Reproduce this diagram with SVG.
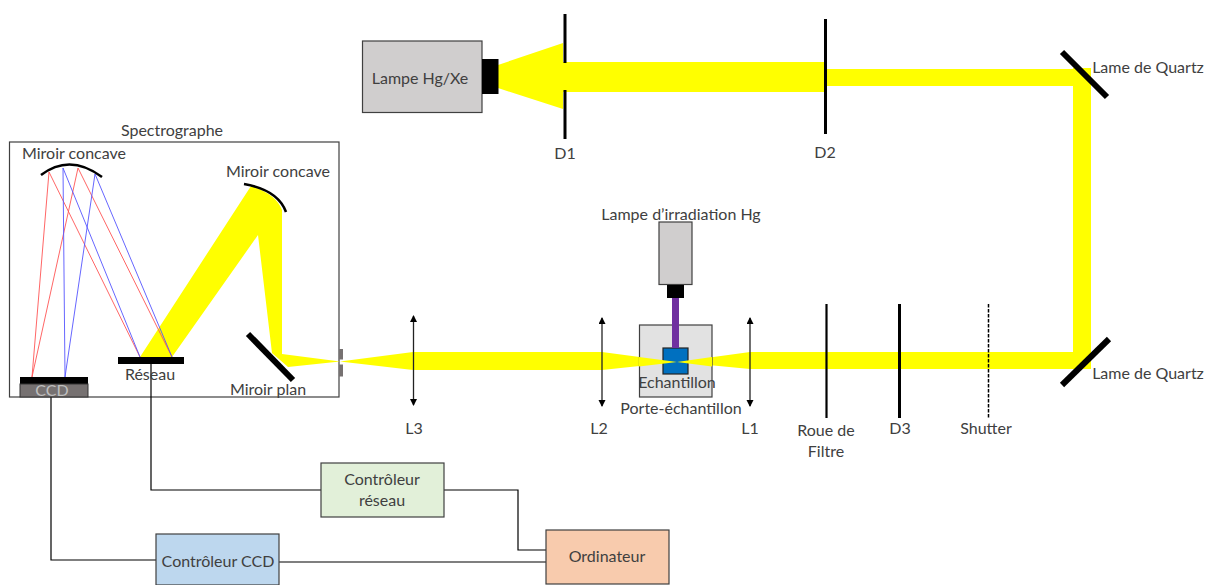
<svg xmlns="http://www.w3.org/2000/svg" width="1209" height="585" viewBox="0 0 1209 585">
<defs>
<marker id="ah" markerWidth="8" markerHeight="8" refX="6" refY="3.5" orient="auto-start-reverse" markerUnits="userSpaceOnUse"><path d="M0 0L7 3.5L0 7Z" fill="#000"/></marker>
</defs>
<style>
text{font-family:"Lato","Open Sans","Liberation Sans",sans-serif;font-size:16px;fill:#404040;text-anchor:middle}
.beam{fill:#ff0;stroke:none}
.bar{stroke:#000;stroke-width:3;fill:none}
.thick{stroke:#000;stroke-width:6;fill:none}
.wire{stroke:#000;stroke-width:1.2;fill:none}
.box{stroke:#404040;stroke-width:1.2}
.lens{stroke:#222;stroke-width:1.3;marker-start:url(#ah);marker-end:url(#ah)}
.r{stroke:#f55;stroke-width:.9}
.b{stroke:#55f;stroke-width:.9}
.mc{stroke:#000;stroke-width:2.6;fill:none}
</style>
<rect width="1209" height="585" fill="#fff"/>
<g id="spectrographe"><rect x="9.5" y="142" width="329.5" height="255" fill="#fff" stroke="#404040" stroke-width="1.2"/><text x="172" y="136">Spectrographe</text></g>
<g id="faisceau">
<path class="beam" d="M498 65L563 43V62H825V69H1073V68H1091V369H825V352H1073V86H825V92H563V109L498 88Z"/>
<path class="beam" d="M1091 352V369H750L677 362L602 370H413L340 361.500L288 367L272 353L258 235L172 357H140L251 186Q276 194 282 210V354L340 361.500L413 352H602L677 362L750 352Z"/>
</g>
<g id="rayons">
<path class="r" d="M49 172L32 377M78 168L32 377M49 172L140 357M78 168L172 357"/>
<path class="b" d="M63 168L65 377M95 174L65 377M63 168L140 357M95 174L172 357"/>
</g>
<g id="connecteurs">
<path class="wire" d="M51 397V560H156"/>
<path class="wire" d="M151 364V490H321"/>
<path class="wire" d="M444 490H518V550H546"/>
<path class="wire" d="M279 562H546"/>
</g>
<g id="lampe-hg-xe"><rect class="box" x="362.500" y="41" width="119.500" height="71.500" fill="#d0cece"/><rect x="482" y="59" width="16.500" height="35" fill="#000"/><text x="420" y="84">Lampe Hg/Xe</text></g>
<g id="d1"><path class="bar" d="M565 14V63M565 90V139"/><text x="565" y="159">D1</text></g>
<g id="d2"><path class="bar" d="M825.500 19V134"/><text x="825" y="158">D2</text></g>
<g id="lame-quartz-haut"><path class="thick" d="M1062 52L1107 97"/><text x="1148" y="73">Lame de Quartz</text></g>
<g id="lame-quartz-bas"><path class="thick" d="M1062 385L1109 339"/><text x="1148" y="379">Lame de Quartz</text></g>
<g id="shutter"><path d="M988.500 304V418" stroke="#000" stroke-width="1.500" stroke-dasharray="3.500 1.500" fill="none"/><text x="986" y="434">Shutter</text></g>
<g id="d3"><path class="bar" d="M899.500 304V418"/><text x="900" y="434">D3</text></g>
<g id="roue-de-filtre"><path class="wire" style="stroke-width:2.200" d="M826.500 304V418"/><text x="826" y="436">Roue de</text><text x="826" y="457">Filtre</text></g>
<g id="l1"><path class="lens" d="M750 318V406"/><text x="750" y="434">L1</text></g>
<g id="porte-echantillon">
<rect class="box" x="639.500" y="325" width="72.500" height="72" fill="#e2e2e2"/>
<rect x="663" y="348" width="25" height="26" fill="#0070c0" stroke="#222" stroke-width="1.200"/>
<path class="beam" d="M639 357L677 362L712 357V366.500L677 362L639 366.500Z"/>
<text x="677" y="388">Echantillon</text><text x="681" y="414">Porte-échantillon</text>
</g>
<g id="lampe-irradiation">
<rect class="box" x="659" y="222" width="33" height="62.500" fill="#d0cece"/>
<rect x="667" y="285" width="17" height="13" fill="#000"/>
<rect x="672" y="298" width="7" height="50" fill="#7030a0"/>
<text x="681" y="220">Lampe d’irradiation Hg</text>
</g>
<g id="l2"><path class="lens" d="M602 318V406"/><text x="599" y="434">L2</text></g>
<g id="l3"><path class="lens" d="M413.500 316V405"/><text x="414" y="434">L3</text></g>
<g id="fente"><rect x="339" y="349" width="4" height="10.500" fill="#767171"/><rect x="339" y="364.500" width="4" height="12" fill="#767171"/></g>
<g id="miroir-plan"><path class="thick" d="M248 334L293 380"/><text x="268" y="395">Miroir plan</text></g>
<g id="miroir-concave-2"><path class="mc" d="M244 184Q278 190 286 212"/><text x="278" y="177">Miroir concave</text></g>
<g id="miroir-concave-1"><path class="mc" d="M41 175Q70 153 102 177"/><text x="74" y="159">Miroir concave</text></g>
<g id="reseau"><rect x="118" y="357" width="66" height="7" fill="#000"/><text x="150" y="380">Réseau</text></g>
<g id="ccd"><rect x="20" y="377" width="68" height="7" fill="#000"/><rect x="20" y="384" width="68" height="13" fill="#767171" stroke="#333"/><text x="52" y="396" style="fill:#bfbfbf">CCD</text></g>
<g id="controleur-reseau"><rect class="box" x="321" y="463" width="123" height="54" fill="#e2f0d9"/><text x="382" y="485">Contrôleur</text><text x="382" y="506">réseau</text></g>
<g id="controleur-ccd"><rect class="box" x="156" y="534" width="123" height="51" fill="#bdd7ee"/><text x="218" y="567">Contrôleur CCD</text></g>
<g id="ordinateur"><rect class="box" x="546" y="530" width="123" height="54" fill="#f8cbad"/><text x="607" y="562">Ordinateur</text></g>
</svg>
